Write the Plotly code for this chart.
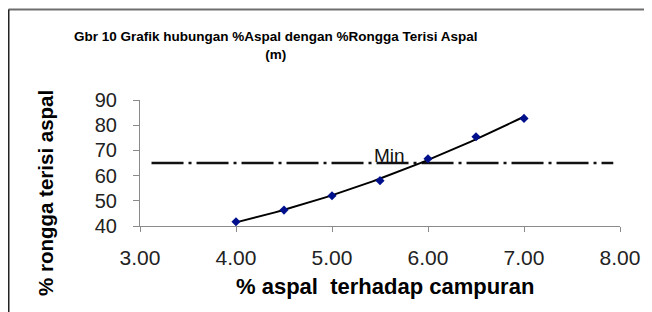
import numpy as np
import plotly.graph_objects as go

# Data
aspal = [4.0, 4.5, 5.0, 5.5, 6.0, 6.5, 7.0]
rongga = [41.7, 46.3, 52.0, 58.0, 66.7, 75.4, 82.7]
min_x = [3.12, 7.93]
min_y = [65, 65]
x_ticks = [3, 4, 5, 6, 7, 8]
x_tick_labels = ["3.00", "4.00", "5.00", "6.00", "7.00", "8.00"]
y_ticks = [40, 50, 60, 70, 80, 90]

# polynomial (order 2) trendline fitted to the data
coef = np.polyfit(aspal, rongga, 2)
tx = np.linspace(min(aspal), max(aspal), 60)
ty = np.polyval(coef, tx)

FONT = "Liberation Sans, Arial, sans-serif"

# page has an 8px body margin; figure pixel = screen pixel - 8
OFF = 8
W, H = 652 - OFF, 312 - OFF
PL, PR, PT, PB = 140 - OFF, 620 - OFF, 100 - OFF, 226 - OFF


def px(sx):
    return (sx - OFF - PL) / (PR - PL)


def py(sy):
    return (PB - (sy - OFF)) / (PB - PT)


fig = go.Figure()
fig.add_trace(go.Scatter(x=min_x, y=min_y, mode="lines",
                         line=dict(color="#111111", width=2.5, dash="32px,5px,3px,5px"),
                         showlegend=False, hoverinfo="skip"))
fig.add_trace(go.Scatter(x=tx, y=ty, mode="lines",
                         line=dict(color="black", width=2),
                         showlegend=False, hoverinfo="skip"))
fig.add_trace(go.Scatter(x=aspal, y=rongga, mode="markers",
                         marker=dict(symbol="diamond", size=7, color="#00108C"),
                         showlegend=False))

fig.add_annotation(x=5.6, y=65, text="Min", showarrow=False, xref="x", yref="y",
                   yanchor="bottom", yshift=-5, font=dict(family=FONT, size=19, color="#111111"))

# titles
fig.add_annotation(x=px(276), y=py(46), xref="paper", yref="paper",
                   text="<b>Gbr 10 Grafik hubungan %Aspal dengan %Rongga Terisi Aspal<br>(m)</b>",
                   showarrow=False, font=dict(family=FONT, size=13.5, color="black"),
                   xanchor="center", yanchor="middle")
fig.add_annotation(x=px(385), y=py(286), xref="paper", yref="paper",
                   text="<b>% aspal\u00a0 terhadap campuran</b>", showarrow=False,
                   font=dict(family=FONT, size=22, color="black"),
                   xanchor="center", yanchor="middle")
fig.add_annotation(x=px(45), y=py(193), xref="paper", yref="paper",
                   text="<b>% rongga terisi aspal</b>", showarrow=False, textangle=-90,
                   font=dict(family=FONT, size=20.5, color="black"),
                   xanchor="center", yanchor="middle")

# frame (top and left border)
fig.add_shape(type="line", xref="paper", yref="paper",
              x0=px(8.5), x1=px(660), y0=py(9.5), y1=py(9.5),
              line=dict(color="#6e6e6e", width=2))
fig.add_shape(type="line", xref="paper", yref="paper",
              x0=px(8.5), x1=px(8.5), y0=py(9.5), y1=py(320),
              line=dict(color="#222222", width=2))

fig.update_xaxes(range=[3, 8], tickvals=x_ticks, ticktext=x_tick_labels,
                 showgrid=False, zeroline=False, showline=True, linecolor="#8a8a8a", linewidth=1,
                 ticks="outside", ticklen=5, tickcolor="#8a8a8a",
                 tickfont=dict(family=FONT, size=21, color="#222222"), ticklabelstandoff=8)
fig.update_yaxes(range=[40, 90], tickvals=y_ticks,
                 showgrid=False, zeroline=False, showline=True, linecolor="#8a8a8a", linewidth=1,
                 ticks="outside", ticklen=6, tickcolor="#8a8a8a",
                 tickfont=dict(family=FONT, size=20, color="#222222"), ticklabelstandoff=12)

fig.update_layout(width=W, height=H, margin=dict(l=PL, r=W - PR, t=PT, b=H - PB),
                  paper_bgcolor="white", plot_bgcolor="white", showlegend=False)

fig.write_html("out.html")
